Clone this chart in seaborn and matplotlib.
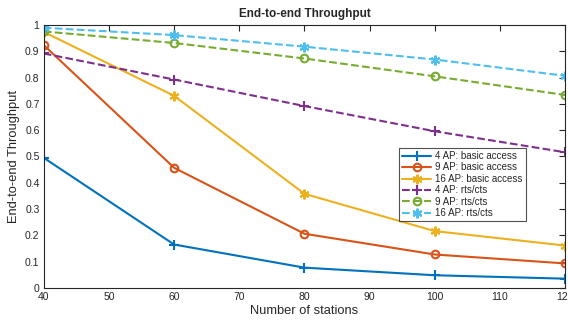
import matplotlib
matplotlib.use("Agg")
import matplotlib.pyplot as plt
import seaborn as sns
import pandas as pd

stations = [40, 60, 80, 100, 120]
ap4_basic = [0.495, 0.165, 0.077, 0.048, 0.035]
ap9_basic = [0.924, 0.457, 0.206, 0.127, 0.093]
ap16_basic = [0.974, 0.731, 0.358, 0.216, 0.161]
ap4_rts = [0.892, 0.793, 0.692, 0.596, 0.516]
ap9_rts = [0.976, 0.932, 0.873, 0.805, 0.734]
ap16_rts = [0.990, 0.962, 0.918, 0.869, 0.807]
labels = ["4 AP: basic access", "9 AP: basic access", "16 AP: basic access",
          "4 AP: rts/cts", "9 AP: rts/cts", "16 AP: rts/cts"]
series = [ap4_basic, ap9_basic, ap16_basic, ap4_rts, ap9_rts, ap16_rts]
colors = ["#0072BD", "#D95319", "#EDB120", "#7E2F8E", "#77AC30", "#4DBEEE"]
asterisk = (6, 2, 0)
markers = ["+", "o", asterisk, "+", "o", asterisk]
styles = ["-", "-", "-", "--", "--", "--"]

sns.set_theme(style="white")
plt.rcParams['font.family'] = ['Liberation Sans', 'DejaVu Sans']

fig = plt.figure(figsize=(5.68, 3.22), dpi=100)
ax = fig.add_axes([0.077, 0.106, 0.918, 0.816])

for lab, vals, c, m, ls in zip(labels, series, colors, markers, styles):
    df = pd.DataFrame({"x": stations, "y": vals})
    sns.lineplot(data=df, x="x", y="y", ax=ax, color=c, marker=m, linestyle=ls,
                 linewidth=1.5, markersize=5.5 if m == "o" else 7,
                 markerfacecolor="none" if m == "o" else c,
                 markeredgecolor=c, markeredgewidth=1.5, label=lab)

ax.set_xlim(40, 120)
ax.set_ylim(0, 1)
ax.set_xticks(range(40, 121, 10))
ax.set_yticks([i / 10 for i in range(11)])
ax.set_yticklabels(["0"] + [f"0.{i}" for i in range(1, 10)] + ["1"])
ax.tick_params(direction="in", length=4, width=0.8, labelsize=7.5, colors="#262626",
               top=True, right=True, pad=3)
for s in ax.spines.values():
    s.set_color("#262626")
    s.set_linewidth(0.8)
ax.set_xlabel("Number of stations", fontsize=9.3, color="#262626", labelpad=2)
ax.set_ylabel("End-to-end Throughput", fontsize=9.3, color="#262626", labelpad=4)
ax.set_title("End-to-end Throughput", fontsize=8.5, fontweight="bold", pad=6)

leg = ax.legend(loc="upper left", bbox_to_anchor=(0.682, 0.532), fontsize=7,
                frameon=True, fancybox=False, edgecolor="#262626",
                handlelength=3, handletextpad=0.4, labelspacing=0.15,
                borderpad=0.3, borderaxespad=0)
leg.get_frame().set_linewidth(0.8)

fig.savefig("out.png", dpi=100)
